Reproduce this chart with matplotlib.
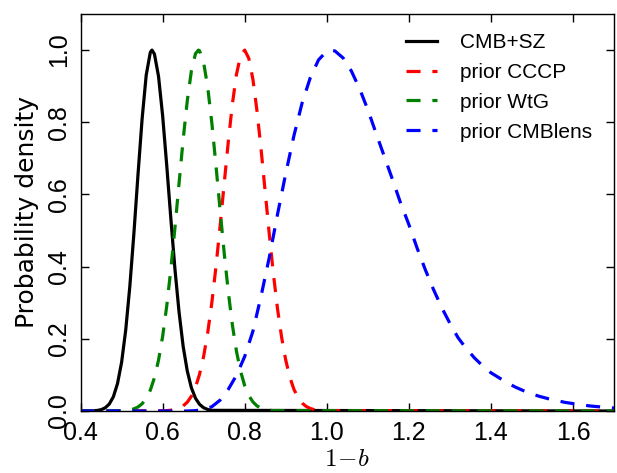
import matplotlib
matplotlib.use("Agg")
import matplotlib.pyplot as plt

# curves (x = 1-b, y = normalised probability density)
x_cmbsz = [0.40, 0.44, 0.45, 0.46, 0.47, 0.48, 0.49, 0.50, 0.51, 0.52, 0.53, 0.54, 0.55, 0.56, 0.57, 0.574,
           0.58, 0.59, 0.60, 0.61, 0.62, 0.63, 0.64, 0.65, 0.66, 0.67, 0.68, 0.69, 0.70, 0.71, 0.72, 1.70]
y_cmbsz = [0.0, 0.0014, 0.0036, 0.0087, 0.0193, 0.0397, 0.076, 0.135, 0.224, 0.345, 0.493, 0.656, 0.810, 0.931, 0.994, 1.0,
           0.989, 0.927, 0.818, 0.680, 0.533, 0.393, 0.274, 0.179, 0.111, 0.0645, 0.0354, 0.0183, 0.0089, 0.0041, 0.0018, 0.0]

x_cccp = [0.40, 0.60, 0.61, 0.62, 0.63, 0.64, 0.65, 0.66, 0.67, 0.68, 0.69, 0.70, 0.71, 0.72, 0.73, 0.74, 0.75,
          0.76, 0.77, 0.78, 0.79, 0.80, 0.81, 0.82, 0.83, 0.84, 0.85, 0.86, 0.87, 0.88, 0.89, 0.90, 0.91,
          0.92, 0.93, 0.94, 0.95, 0.96, 0.97, 0.98, 0.99, 1.70]
y_cccp = [0.0, 0.0005, 0.001, 0.0021, 0.0041, 0.0077, 0.014, 0.0244, 0.0408, 0.0657, 0.102, 0.152, 0.218, 0.301, 0.400, 0.512, 0.630,
          0.746, 0.851, 0.933, 0.985, 1.0, 0.977, 0.919, 0.831, 0.724, 0.607, 0.489, 0.379, 0.283, 0.204, 0.141, 0.0936,
          0.0599, 0.0369, 0.0219, 0.0125, 0.0069, 0.0036, 0.0018, 0.0009, 0.0]

x_wtg = [0.40, 0.50, 0.51, 0.52, 0.53, 0.54, 0.55, 0.56, 0.57, 0.58, 0.59, 0.60, 0.61, 0.62, 0.63, 0.64, 0.65,
         0.66, 0.67, 0.68, 0.687, 0.69, 0.70, 0.71, 0.72, 0.73, 0.74, 0.75, 0.76, 0.77, 0.78, 0.79, 0.80,
         0.81, 0.82, 0.83, 0.84, 0.85, 0.86, 0.87, 1.70]
y_wtg = [0.0, 0.0007, 0.0015, 0.003, 0.0059, 0.0111, 0.0201, 0.0348, 0.0578, 0.0922, 0.141, 0.207, 0.291, 0.393, 0.508, 0.631, 0.752,
         0.859, 0.942, 0.990, 1.0, 0.998, 0.965, 0.896, 0.797, 0.680, 0.557, 0.438, 0.330, 0.238, 0.165, 0.110, 0.070,
         0.0428, 0.0251, 0.0141, 0.0076, 0.004, 0.002, 0.0009, 0.0]

x_cmblens = [0.40, 0.66, 0.68, 0.70, 0.72, 0.74, 0.76, 0.78, 0.80, 0.82, 0.84, 0.86, 0.88, 0.90, 0.92, 0.94, 0.96,
             0.98, 1.00, 1.01, 1.02, 1.04, 1.06, 1.08, 1.10, 1.12, 1.14, 1.16, 1.18, 1.20, 1.22, 1.24, 1.26,
             1.28, 1.30, 1.32, 1.34, 1.36, 1.38, 1.40, 1.42, 1.44, 1.46, 1.48, 1.50, 1.52, 1.54, 1.56, 1.58,
             1.60, 1.62, 1.64, 1.66, 1.68, 1.70]
y_cmblens = [0.0, 0.0, 0.001, 0.004, 0.012, 0.030, 0.060, 0.099, 0.151, 0.221, 0.319, 0.426, 0.545, 0.658, 0.763, 0.854, 0.924,
             0.973, 0.997, 1.0, 0.9975, 0.978, 0.942, 0.893, 0.835, 0.770, 0.706, 0.642, 0.576, 0.517, 0.452, 0.392, 0.337,
             0.287, 0.243, 0.203, 0.173, 0.147, 0.125, 0.106, 0.092, 0.078, 0.066, 0.056, 0.047, 0.040, 0.034, 0.029, 0.024,
             0.0205, 0.0174, 0.0141, 0.012, 0.0102, 0.0082]

labels = ["CMB+SZ", "prior CCCP", "prior WtG", "prior CMBlens"]

plt.rcParams['mathtext.fontset'] = 'cm'
plt.rcParams['font.family'] = ['Liberation Sans', 'DejaVu Sans']

fig = plt.figure(figsize=(6.17, 4.73), dpi=100)
ax = fig.add_subplot(111)
fig.subplots_adjust(left=0.1306, right=0.9951, bottom=0.1311, top=0.9704)

lw = 2.3
dash = (0, (4.4, 3.7))
ax.plot(x_cmbsz, y_cmbsz, color='k', lw=lw, label=labels[0])
ax.plot(x_cccp, y_cccp, color='r', lw=lw, ls=dash, label=labels[1])
ax.plot(x_wtg, y_wtg, color='#008000', lw=lw, ls=dash, label=labels[2])
ax.plot(x_cmblens, y_cmblens, color='b', lw=lw, ls=dash, label=labels[3])

ax.set_xlim(0.4, 1.7)
ax.set_ylim(0, 1.1)
ax.set_xticks([0.4, 0.6, 0.8, 1.0, 1.2, 1.4, 1.6])
ax.set_yticks([0.0, 0.2, 0.4, 0.6, 0.8, 1.0])
ax.tick_params(direction='in', length=6, width=1, top=True, right=True, labelsize=18, pad=7)
for lab in ax.get_yticklabels():
    lab.set_rotation(90)
    lab.set_va('center')
for sp in ax.spines.values():
    sp.set_linewidth(1.0)

ax.set_xlabel(r'$1\!-\!b$', fontsize=18, labelpad=2)
ax.set_ylabel('Probability density', fontsize=18, family='DejaVu Sans', labelpad=6)

ax.legend(loc='upper left', bbox_to_anchor=(0.61, 0.952), frameon=False, fontsize=15,
          handlelength=1.49, handletextpad=1.1, borderaxespad=0, borderpad=0, labelspacing=0.52)

fig.savefig('out.png', dpi=100)
